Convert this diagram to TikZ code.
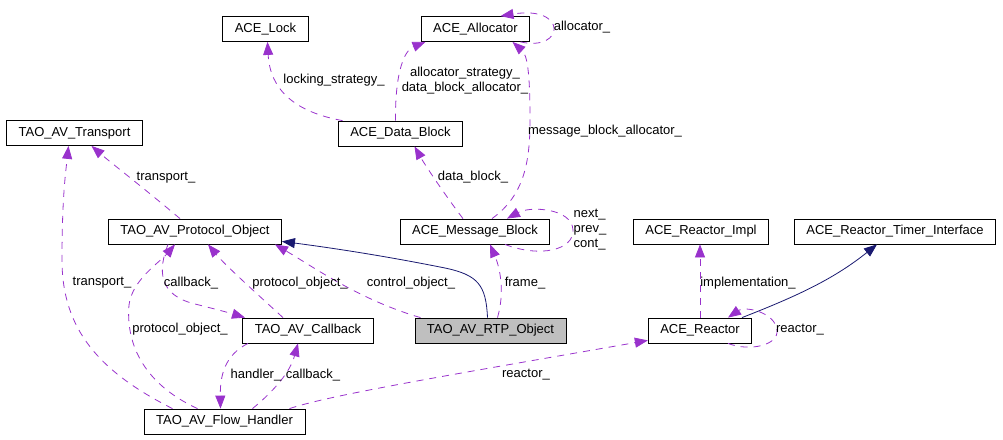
\documentclass[tikz,border=0pt]{standalone}
\usepackage{fontspec}
\setmainfont{Liberation Sans}
\usetikzlibrary{arrows.meta, calc}
\definecolor{usecol}{RGB}{153,50,204}
\definecolor{inhcol}{RGB}{25,25,112}
\definecolor{curfill}{RGB}{191,191,191}

\begin{document}
\begin{tikzpicture}[x=1pt, y=-1pt, font=\fontsize{13}{15}\selectfont,
  cls/.style={draw, line width=0.8pt, minimum height=25pt, inner xsep=12pt, inner ysep=0pt, fill=white},
  cur/.style={cls, fill=curfill},
  uses/.style={draw=usecol, line width=0.8pt, dash pattern=on 7pt off 6pt, -{Triangle[length=13pt,width=10pt]}},
  inh/.style={draw=inhcol, line width=0.8pt, -{Triangle[length=13pt,width=10pt]}},
  lbl/.style={inner sep=0pt, align=center}]
  \useasboundingbox (0,0) rectangle (1003,439);
  \node[cls] (lock) at (265.5,29) {ACE\_Lock};
  \node[cls] (alloc) at (475.5,29) {ACE\_Allocator};
  \node[cls] (transport) at (74.5,133) {TAO\_AV\_Transport};
  \node[cls] (datablock) at (400.5,133.5) {ACE\_Data\_Block};
  \node[cls] (proto) at (195,231.5) {TAO\_AV\_Protocol\_Object};
  \node[cls] (msgblock) at (475,231.5) {ACE\_Message\_Block};
  \node[cls] (rimpl) at (701,231.5) {ACE\_Reactor\_Impl};
  \node[cls] (rtimer) at (895,231.5) {ACE\_Reactor\_Timer\_Interface};
  \node[cls] (callback) at (308,330.5) {TAO\_AV\_Callback};
  \node[cur] (rtp) at (490.5,330.5) {TAO\_AV\_RTP\_Object};
  \node[cls] (reactor) at (700,330.5) {ACE\_Reactor};
  \node[cls] (flow) at (224.5,421.5) {TAO\_AV\_Flow\_Handler};

  \draw[uses] ([xshift=-58pt]datablock.north) .. controls (295,112) and (270,90) .. ([xshift=2pt]lock.south);
  \draw[uses] ([xshift=-5pt]datablock.north) .. controls (395,70) and (405,50) .. ([xshift=-50pt]alloc.south);
  \draw[uses] ([xshift=45pt]alloc.south) .. controls (565,52) and (568,5) .. ([xshift=25pt]alloc.north);
  \draw[uses] ([xshift=17pt]msgblock.north) .. controls (525,195) and (530,160) .. (530,120) .. controls (530,70) and (527,55) .. ([xshift=37pt]alloc.south);
  \draw[uses] ([xshift=-12pt]msgblock.north) .. controls (445,195) and (425,165) .. ([xshift=14pt]datablock.south);
  \draw[uses] ([xshift=30pt]msgblock.south) .. controls (540,258) and (574,250) .. (573,230) .. controls (572,208) and (530,206) .. ([xshift=32pt]msgblock.north);
  \draw[uses] ([xshift=-15pt]proto.north) .. controls (140,185) and (110,162) .. ([xshift=17pt]transport.south);
  \draw[uses] ([xshift=-52pt]flow.north) .. controls (100,372) and (62,330) .. (62,260) .. controls (62,195) and (66,170) .. ([xshift=-6pt]transport.south);
  \draw[uses] ([xshift=-27pt]flow.north) .. controls (140,382) and (126,340) .. (129,305) .. controls (132,280) and (160,262) .. ([xshift=-20pt]proto.south);
  \draw[uses] ([xshift=-25pt]callback.north) .. controls (255,292) and (225,265) .. ([xshift=13pt]proto.south);
  \draw[uses] ([xshift=-27pt]proto.south) .. controls (158,270) and (158,295) .. (195,304) .. controls (215,309) and (230,313) .. ([xshift=-63pt]callback.north);
  \draw[uses] ([xshift=-70pt]rtp.north) .. controls (360,300) and (315,268) .. ([xshift=80pt]proto.south);
  \draw[inh] ([xshift=-3pt]rtp.north) .. controls (486,285) and (478,275) .. (445,268) .. controls (390,257) and (340,249) .. ([yshift=3pt]proto.south east);
  \draw[uses] ([xshift=7pt]rtp.north) .. controls (505,292) and (500,268) .. ([xshift=15pt]msgblock.south);
  \draw[uses] ([xshift=-60pt]callback.south) .. controls (225,355) and (220,375) .. ([xshift=-4pt]flow.north);
  \draw[uses] ([xshift=28pt]flow.north) .. controls (275,390) and (290,372) .. ([xshift=-10pt]callback.south);
  \draw[uses] ([xshift=65pt]flow.north) .. controls (330,395) and (450,375) .. ([yshift=3pt]reactor.south west);
  \draw[uses] (reactor.north) -- (reactor.north |- rimpl.south);
  \draw[inh] ([xshift=42pt]reactor.north) .. controls (800,295) and (835,278) .. ([xshift=-18pt]rtimer.south);
  \draw[uses] ([xshift=28pt]reactor.south) .. controls (750,352) and (779,345) .. (777,330) .. controls (775,312) and (745,306) .. ([xshift=28pt]reactor.north);

  \node[lbl] (l-lock) at (334,80) {locking\_strategy\_};
  \node[lbl] (l-dballoc) at (465,81) {allocator\_strategy\_\\data\_block\_allocator\_};
  \node[lbl] (l-alloc) at (582,27) {allocator\_};
  \node[lbl] (l-mballoc) at (605,131) {message\_block\_allocator\_};
  \node[lbl] (l-datablock) at (473,177) {data\_block\_};
  \node[lbl, align=left] (l-next) at (590,230) {next\_\\prev\_\\cont\_};
  \node[lbl] (l-transport1) at (166,178) {transport\_};
  \node[lbl] (l-transport2) at (102,283) {transport\_};
  \node[lbl] (l-proto1) at (180,329) {protocol\_object\_};
  \node[lbl] (l-proto2) at (300,283) {protocol\_object\_};
  \node[lbl] (l-callback1) at (191,283) {callback\_};
  \node[lbl] (l-control) at (411,283) {control\_object\_};
  \node[lbl] (l-frame) at (525,283) {frame\_};
  \node[lbl] (l-handler) at (256,375) {handler\_};
  \node[lbl] (l-callback2) at (313,375) {callback\_};
  \node[lbl] (l-reactor1) at (526,375) {reactor\_};
  \node[lbl] (l-impl) at (748,283) {implementation\_};
  \node[lbl] (l-reactor2) at (800,330) {reactor\_};
\end{tikzpicture}
\end{document}
